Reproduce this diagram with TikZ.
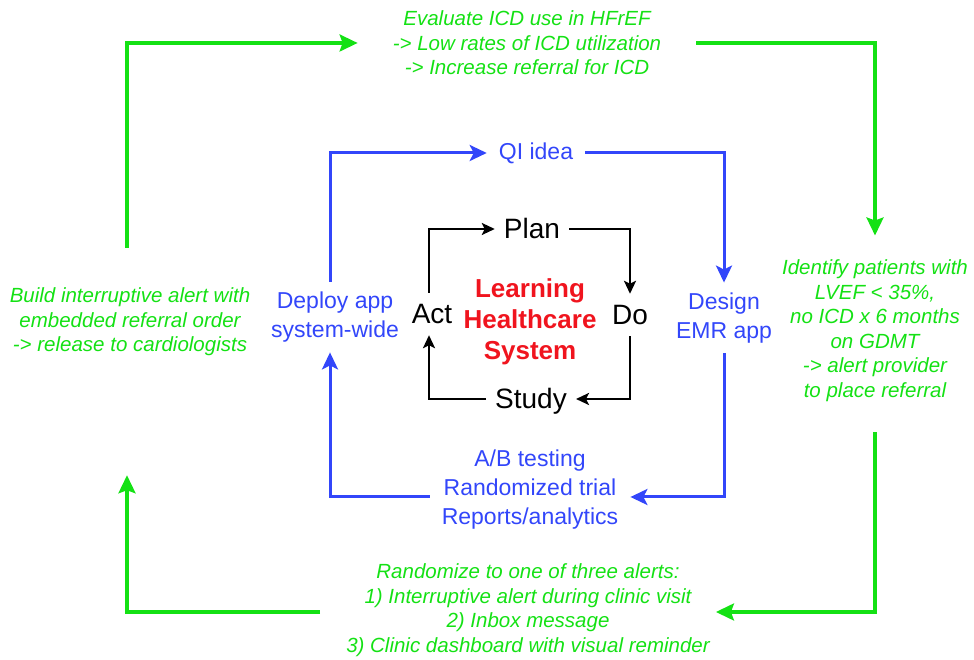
\documentclass[tikz,border=0pt]{standalone}
\usepackage{fontspec}
\setmainfont{Liberation Sans}
\usetikzlibrary{arrows.meta}
\definecolor{hijau}{RGB}{20,225,20}
\definecolor{biru}{RGB}{50,70,250}
\definecolor{merah}{RGB}{240,20,30}
\tikzset{
  % teks siklus PDSA (hitam)
  pdsa/.style={font=\fontsize{28}{34}\selectfont, text height=20pt, text depth=0pt,
               inner xsep=9pt, inner ysep=11pt},
  % teks loop QI (biru)
  qibox/.style={text=biru, font=\fontsize{23}{29}\selectfont, align=center,
                inner xsep=12pt, inner ysep=10pt},
  % teks loop ICD (hijau, miring)
  icdbox/.style={text=hijau, font=\fontsize{20.5}{24.5}\selectfont\itshape, align=center,
                 inner sep=4pt},
  % panah tiap loop
  arrpdsa/.style={line width=2.6pt, black, -{Stealth[length=13pt,width=12pt,inset=3pt]}},
  arrqi/.style={line width=3pt, biru, -{Stealth[length=17pt,width=16pt,inset=4pt]}},
  arricd/.style={line width=3.2pt, hijau, -{Stealth[length=18pt,width=17pt,inset=3pt]}},
}

\begin{document}
\begin{tikzpicture}[x=1pt,y=1pt]
\useasboundingbox (0,0) rectangle (974,660);

% =================== SIKLUS PDSA ===================
\node[pdsa] (plan)  at (532,431) {Plan};
\node[pdsa] (do)    at (630,345) {Do};
\node[pdsa] (study) at (531,261) {Study};
\node[pdsa] (act)   at (432,346) {Act};
\node[text=merah, font=\fontsize{26}{31}\selectfont\bfseries, align=center] (lhs) at (530,338)
  {Learning\\ Healthcare\\ System};

\draw[arrpdsa] ([xshift=-3pt]act.north) |- (plan.west);
\draw[arrpdsa] (plan.east) -| (do.north);
\draw[arrpdsa] (do.south) |- (study.east);
\draw[arrpdsa] (study.west) -| ([xshift=-3pt]act.south);

% =================== LOOP QI ===================
\node[qibox] (qi)     at (536,507) {QI idea};
\node[qibox] (design) at (724,342) {Design\\ EMR app};
\node[qibox] (abtest) at (530,170) {A/B testing\\ Randomized trial\\ Reports/analytics};
\node[qibox] (deploy) at (335,343) {Deploy app\\ system-wide};

\draw[arrqi] ([xshift=-5pt]deploy.north) |- (qi.west);
\draw[arrqi] (qi.east) -| (design.north);
\draw[arrqi] (design.south) |- ([yshift=-7pt]abtest.east);
\draw[arrqi] ([yshift=-7pt]abtest.west) -| ([xshift=-5pt]deploy.south);

% =================== LOOP ICD ===================
\node[icdbox, inner xsep=35pt] (evaluate) at (527,617)
  {Evaluate ICD use in HFrEF\\ -> Low rates of ICD utilization\\ -> Increase referral for ICD};
\node[icdbox, inner ysep=24pt] (identify) at (875,329.5)
  {Identify patients with\\ LVEF < 35\%,\\ no ICD x 6 months\\ on GDMT\\ -> alert provider\\ to place referral};
\node[icdbox, inner xsep=6pt] (randomize) at (528,50)
  {Randomize to one of three alerts:\\ 1) Interruptive alert during clinic visit\\ 2) Inbox message\\ 3) Clinic dashboard with visual reminder};
\node[icdbox] (build) at (130,338)
  {Build interruptive alert with\\ embedded referral order\\ -> release to cardiologists};

\draw[arricd, shorten <=36pt] ([xshift=-3pt]build.north) |- (evaluate.west);
\draw[arricd] (evaluate.east) -| (identify.north);
\draw[arricd, shorten <=7pt] (identify.south) |- ([yshift=-2pt]randomize.east);
\draw[arricd, shorten <=20pt, shorten >=115pt] ([yshift=-2pt]randomize.west) -| ([xshift=-3pt]build.south);

\end{tikzpicture}
\end{document}
